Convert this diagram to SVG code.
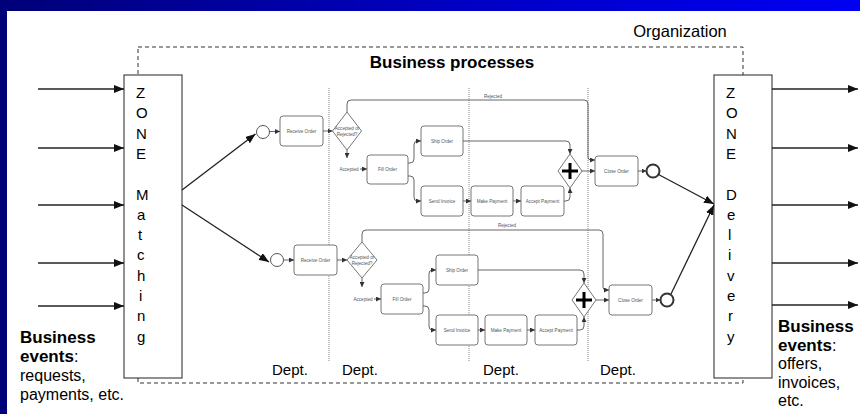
<svg xmlns="http://www.w3.org/2000/svg" width="860" height="414" viewBox="0 0 860 414">
<defs>
<linearGradient id="bar" x1="0" y1="0" x2="1" y2="0">
<stop offset="0" stop-color="#000078"/>
<stop offset="0.5" stop-color="#0000c0"/>
<stop offset="1" stop-color="#0000f4"/>
</linearGradient>
<marker id="big" viewBox="0 0 10 8" refX="10" refY="4" markerWidth="10" markerHeight="8" markerUnits="userSpaceOnUse" orient="auto">
<path d="M0,0 L10,4 L0,8 Z" fill="#111"/>
</marker>
<marker id="sm" viewBox="0 0 6 6" refX="6" refY="3" markerWidth="5" markerHeight="5" markerUnits="userSpaceOnUse" orient="auto">
<path d="M0,0 L6,3 L0,6 Z" fill="#333"/>
</marker>
<style>
.t{font-family:"Liberation Sans",Arial,sans-serif;fill:#000}
.z{font-size:15px}
.big{fill:none;stroke:#222;stroke-width:1.3;marker-end:url(#big)}
.fl{fill:none;stroke:#555;stroke-width:0.9;marker-end:url(#sm)}
.flx{fill:none;stroke:#555;stroke-width:0.9}
.box{fill:#fff;stroke:#777;stroke-width:1}
.pt{font-family:"Liberation Sans",Arial,sans-serif;font-size:4.6px;fill:#555;text-anchor:middle}
.lane{stroke:#888;stroke-width:1;stroke-dasharray:1 1;fill:none}
.dept{font-family:"Liberation Sans",Arial,sans-serif;font-size:15px;fill:#000}
.ev{font-family:"Liberation Sans",Arial,sans-serif;font-size:16px;fill:#000}
.b{font-weight:bold;font-size:17px}
</style>
</defs>
<rect x="0" y="0" width="860" height="414" fill="#fff"/>
<rect x="0" y="0" width="860" height="11" fill="url(#bar)"/>
<rect x="0" y="0" width="7" height="414" fill="#000078"/>

<g id="organization">
<rect x="138" y="47" width="605" height="336" fill="none" stroke="#333" stroke-width="1" stroke-dasharray="4 3"/>
<text class="t" x="680" y="37" font-size="16.5" text-anchor="middle">Organization</text>
<text class="t" x="452" y="68" font-size="17" font-weight="bold" text-anchor="middle">Business processes</text>
</g>

<g id="lanes">
<line class="lane" x1="329" y1="88" x2="329" y2="362"/>
<line class="lane" x1="469" y1="88" x2="469" y2="362"/>
<line class="lane" x1="588" y1="88" x2="588" y2="362"/>
<text class="dept" x="272" y="375">Dept.</text>
<text class="dept" x="342" y="375">Dept.</text>
<text class="dept" x="483" y="375">Dept.</text>
<text class="dept" x="600" y="375">Dept.</text>
</g>

<g id="zone-matching">
<rect x="124" y="75" width="58" height="303" fill="#fff" stroke="#222" stroke-width="1"/>
<text class="t z"><tspan x="136" y="98">Z</tspan><tspan x="136" y="118.3">O</tspan><tspan x="136" y="138.6">N</tspan><tspan x="136" y="158.9">E</tspan><tspan x="136" y="199.5">M</tspan><tspan x="137" y="219.8">a</tspan><tspan x="138" y="240.1">t</tspan><tspan x="137" y="260.4">c</tspan><tspan x="137" y="280.7">h</tspan><tspan x="139" y="301">i</tspan><tspan x="137" y="321.3">n</tspan><tspan x="137" y="341.6">g</tspan></text>
</g>

<g id="zone-delivery">
<rect x="714" y="75" width="58" height="303" fill="#fff" stroke="#222" stroke-width="1"/>
<text class="t z"><tspan x="726" y="98">Z</tspan><tspan x="726" y="118.3">O</tspan><tspan x="726" y="138.6">N</tspan><tspan x="726" y="158.9">E</tspan><tspan x="726" y="199.5">D</tspan><tspan x="727" y="219.8">e</tspan><tspan x="728" y="240.1">l</tspan><tspan x="728" y="260.4">i</tspan><tspan x="727" y="280.7">v</tspan><tspan x="727" y="301">e</tspan><tspan x="728" y="321.3">r</tspan><tspan x="727" y="341.6">y</tspan></text>
</g>

<g id="input-events">
<text class="ev"><tspan x="20" y="343" class="b">Business</tspan><tspan x="20" y="362"><tspan class="b">events</tspan>:</tspan><tspan x="20" y="381">requests,</tspan><tspan x="20" y="400">payments, etc.</tspan></text>
</g>
<g id="output-events">
<text class="ev"><tspan x="778" y="332" class="b">Business</tspan><tspan x="778" y="350.5"><tspan class="b">events</tspan>:</tspan><tspan x="778" y="369">offers,</tspan><tspan x="778" y="387.5">invoices,</tspan><tspan x="778" y="406">etc.</tspan></text>
</g>

<!-- process 1 nodes -->
<g id="p1-start"><circle cx="263" cy="132" r="6.5" fill="#fff" stroke="#555" stroke-width="1"/></g>
<g id="p1-receive"><rect class="box" x="280" y="116" width="43" height="30" rx="3"/><text class="pt" x="301.5" y="132.5">Receive Order</text></g>
<g id="p1-decision"><path class="box" d="M347,112 L361.5,131 L347,150 L332.5,131 Z"/><text class="pt" x="347" y="130">Accepted or</text><text class="pt" x="347" y="135.5">Rejected?</text></g>
<g id="p1-fill"><rect class="box" x="367" y="155" width="41" height="29" rx="3"/><text class="pt" x="387.5" y="171">Fill Order</text></g>
<g id="p1-ship"><rect class="box" x="421" y="126" width="42" height="30" rx="3"/><text class="pt" x="442" y="142.5">Ship Order</text></g>
<g id="p1-invoice"><rect class="box" x="421" y="186" width="42" height="30" rx="3"/><text class="pt" x="442" y="202.5">Send Invoice</text></g>
<g id="p1-make"><rect class="box" x="471" y="186" width="42" height="30" rx="3"/><text class="pt" x="492" y="202.5">Make Payment</text></g>
<g id="p1-accept"><rect class="box" x="521" y="186" width="43" height="30" rx="3"/><text class="pt" x="542.5" y="202.5">Accept Payment</text></g>
<g id="p1-join"><path class="box" d="M570,154 L582,171 L570,188 L558,171 Z"/><path d="M570,163 V179 M562,171 H578" stroke="#000" stroke-width="3"/></g>
<g id="p1-close"><rect class="box" x="595" y="156" width="43" height="30" rx="3"/><text class="pt" x="616.5" y="172.5">Close Order</text></g>
<g id="p1-end"><circle cx="653" cy="171" r="6.5" fill="#fff" stroke="#333" stroke-width="2"/></g>

<!-- process 2 nodes -->
<g id="p2-start"><circle cx="277" cy="260" r="6.5" fill="#fff" stroke="#555" stroke-width="1"/></g>
<g id="p2-receive"><rect class="box" x="294" y="245" width="43" height="30" rx="3"/><text class="pt" x="315.5" y="261.5">Receive Order</text></g>
<g id="p2-decision"><path class="box" d="M362,242 L377,260 L362,278 L347,260 Z"/><text class="pt" x="362" y="259">Accepted or</text><text class="pt" x="362" y="264.5">Rejected?</text></g>
<g id="p2-fill"><rect class="box" x="381" y="284" width="42" height="30" rx="3"/><text class="pt" x="402" y="300.5">Fill Order</text></g>
<g id="p2-ship"><rect class="box" x="436" y="255" width="42" height="30" rx="3"/><text class="pt" x="457" y="271.5">Ship Order</text></g>
<g id="p2-invoice"><rect class="box" x="436" y="315" width="42" height="30" rx="3"/><text class="pt" x="457" y="331.5">Send Invoice</text></g>
<g id="p2-make"><rect class="box" x="485" y="315" width="42" height="30" rx="3"/><text class="pt" x="506" y="331.5">Make Payment</text></g>
<g id="p2-accept"><rect class="box" x="535" y="315" width="42" height="30" rx="3"/><text class="pt" x="556" y="331.5">Accept Payment</text></g>
<g id="p2-join"><path class="box" d="M584,283 L596,300 L584,317 L572,300 Z"/><path d="M584,292 V308 M576,300 H592" stroke="#000" stroke-width="3"/></g>
<g id="p2-close"><rect class="box" x="609" y="285" width="43" height="30" rx="3"/><text class="pt" x="630.5" y="301.5">Close Order</text></g>
<g id="p2-end"><circle cx="667" cy="300" r="6.5" fill="#fff" stroke="#333" stroke-width="2"/></g>

<g id="connectors">
<!-- inputs -->
<line class="big" x1="38" y1="89" x2="124" y2="89"/>
<line class="big" x1="38" y1="148" x2="124" y2="148"/>
<line class="big" x1="38" y1="205" x2="124" y2="205"/>
<line class="big" x1="38" y1="263" x2="124" y2="263"/>
<line class="big" x1="38" y1="306" x2="124" y2="306"/>
<!-- outputs -->
<line class="big" x1="772" y1="89" x2="858" y2="89"/>
<line class="big" x1="772" y1="148" x2="858" y2="148"/>
<line class="big" x1="772" y1="205" x2="858" y2="205"/>
<line class="big" x1="772" y1="263" x2="858" y2="263"/>
<line class="big" x1="772" y1="305" x2="858" y2="305"/>
<!-- zone to processes -->
<line class="big" x1="182" y1="190" x2="255.5" y2="134"/>
<line class="big" x1="182" y1="205" x2="269" y2="262"/>
<line class="big" x1="658.5" y1="174.5" x2="714" y2="204"/>
<line class="big" x1="671" y1="294" x2="714" y2="205"/>

<!-- process 1 flows -->
<line class="fl" x1="269.5" y1="131.5" x2="280" y2="131.5"/>
<line class="fl" x1="323" y1="131" x2="332.5" y2="131"/>
<path class="fl" d="M347,112 V104 Q347,100 351,100 H584 Q588,100 588,104 V157 Q588,160 591,160 H595"/>
<text class="pt" x="493" y="97.5">Rejected</text>
<path class="fl" d="M347,150 V158"/>
<text class="pt" x="349" y="170.5">Accepted</text>
<line class="fl" x1="360" y1="169" x2="367" y2="169"/>
<path class="fl" d="M408,163 H410 Q414,163 414,159 V145 Q414,141 417,141 H421"/>
<path class="fl" d="M408,176 H410 Q414,176 414,180 V197 Q414,201 417,201 H421"/>
<line class="fl" x1="463" y1="201" x2="471" y2="201"/>
<line class="fl" x1="513" y1="201" x2="521" y2="201"/>
<path class="fl" d="M463,141 H566 Q570,141 570,145 V154"/>
<path class="fl" d="M564,201 H566 Q570,201 570,197 V188"/>
<line class="fl" x1="582" y1="171" x2="595" y2="171"/>
<line class="fl" x1="638" y1="171" x2="646.5" y2="171"/>

<!-- process 2 flows -->
<line class="fl" x1="283.5" y1="260" x2="294" y2="260"/>
<line class="fl" x1="337" y1="260" x2="347" y2="260"/>
<path class="fl" d="M362,242 V234 Q362,230 366,230 H599 Q603,230 603,234 V287 Q603,290 606,290 H609"/>
<text class="pt" x="507" y="227">Rejected</text>
<path class="fl" d="M362,278 V287"/>
<text class="pt" x="363" y="300.5">Accepted</text>
<line class="fl" x1="374" y1="299" x2="381" y2="299"/>
<path class="fl" d="M423,293 H425 Q429,293 429,289 V274 Q429,270 432,270 H436"/>
<path class="fl" d="M423,306 H425 Q429,306 429,310 V326 Q429,330 432,330 H436"/>
<line class="fl" x1="478" y1="330" x2="485" y2="330"/>
<line class="fl" x1="527" y1="330" x2="535" y2="330"/>
<path class="fl" d="M478,270 H580 Q584,270 584,274 V283"/>
<path class="fl" d="M577,330 H580 Q584,330 584,326 V317"/>
<line class="fl" x1="596" y1="300" x2="609" y2="300"/>
<line class="fl" x1="652" y1="300" x2="660.5" y2="300"/>
</g>
</svg>
